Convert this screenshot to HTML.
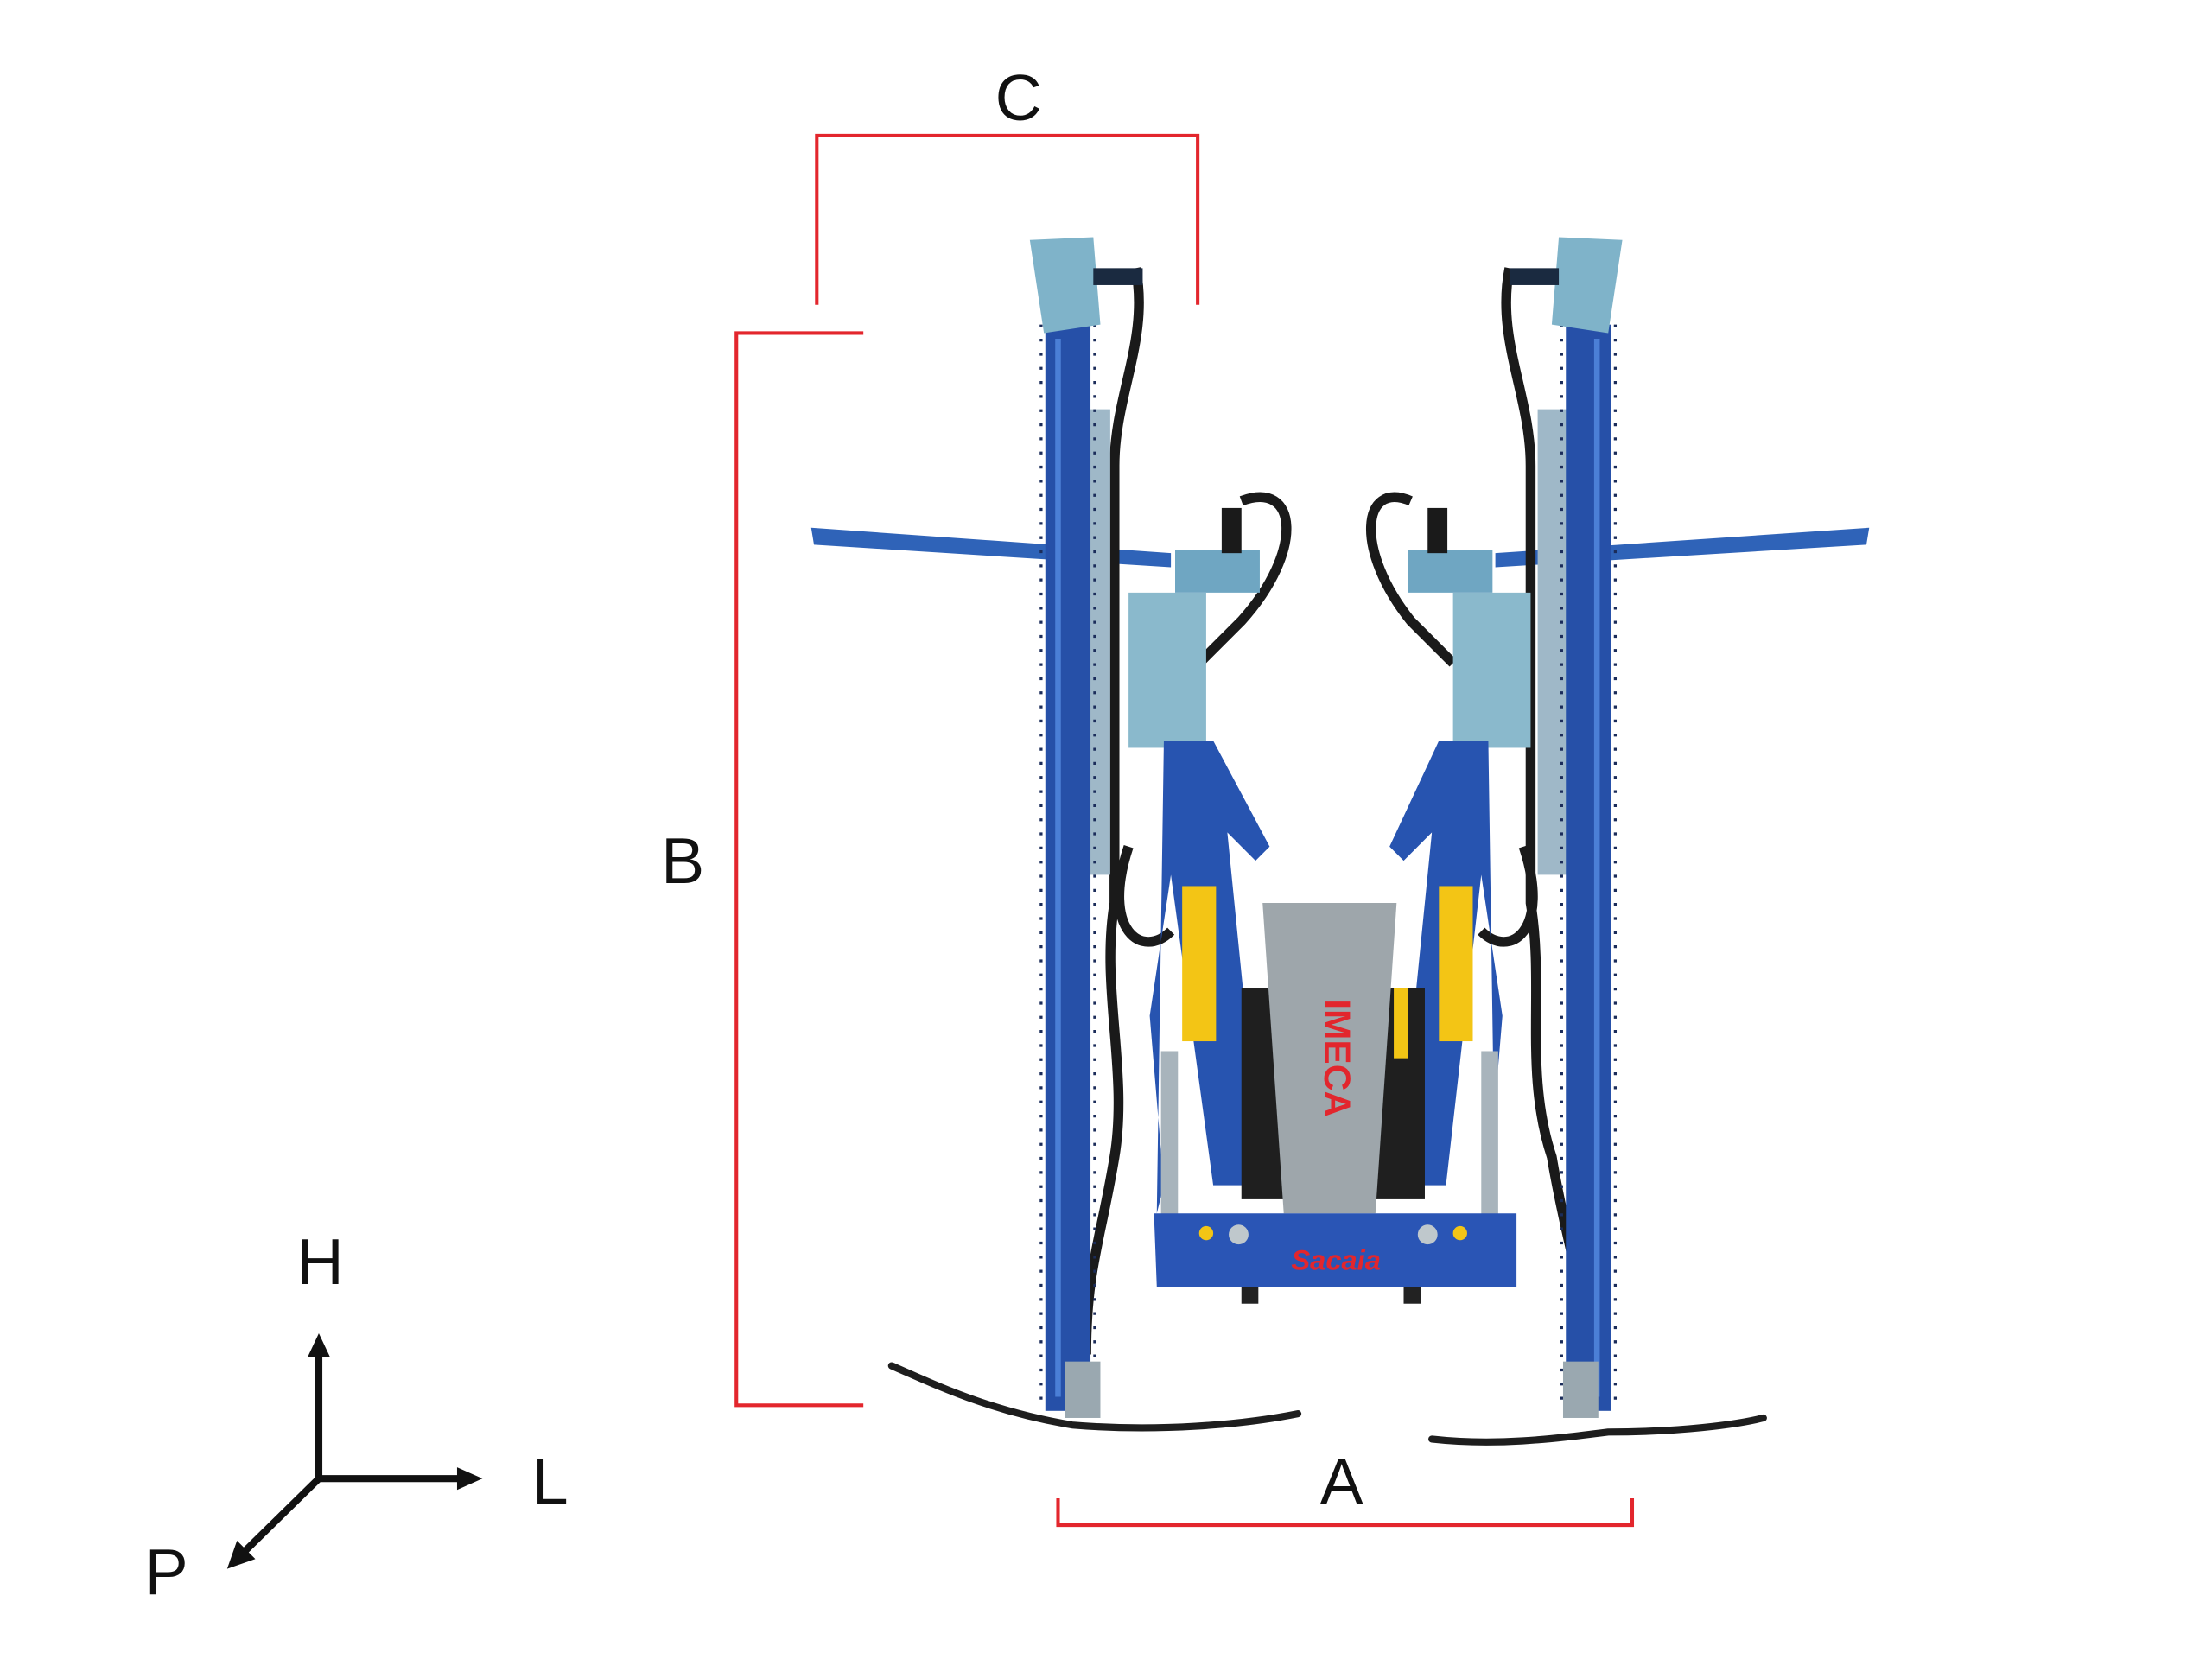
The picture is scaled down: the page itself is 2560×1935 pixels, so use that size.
<!DOCTYPE html>
<html><head><meta charset="utf-8"><style>
html,body{margin:0;padding:0;background:#fff;}
svg{display:block;}
text{font-family:"Liberation Sans",sans-serif;}
</style></head><body>
<svg width="2560" height="1935" viewBox="0 0 1568 1185" xmlns="http://www.w3.org/2000/svg">
<rect width="1568" height="1185" fill="#fff"/>
<!-- dimension brackets -->
<g stroke="#e3262d" stroke-width="2.5" fill="none">
<polyline points="579,216 579,96 849,96 849,216"/>
<polyline points="612,236 522,236 522,996 612,996"/>
<polyline points="750,1062 750,1081 1157,1081 1157,1062"/>
</g>
<g font-size="46" fill="#111" text-anchor="middle">
<text x="722" y="85">C</text>
<text x="484" y="626">B</text>
<text x="951" y="1066">A</text>
<text x="227" y="910">H</text>
<text x="390" y="1066">L</text>
<text x="118" y="1130">P</text>
</g>
<!-- axes -->
<g stroke="#111" stroke-width="5" fill="none">
<line x1="226" y1="1048" x2="226" y2="960"/>
<line x1="226" y1="1048" x2="326" y2="1048"/>
<line x1="226" y1="1048" x2="172" y2="1101"/>
</g>
<polygon points="226,945 218,962 234,962" fill="#111"/>
<polygon points="342,1048 324,1040 324,1056" fill="#111"/>
<polygon points="161,1112 168,1092 181,1105" fill="#111"/>

<!-- machine -->
<g id="m">
<!-- horizontal arms -->
<path d="M575,374 L830,392 L830,402 L577,386 Z" fill="#2f63b8"/>
<path d="M1325,374 L1060,392 L1060,402 L1323,386 Z" fill="#2f63b8"/>
<!-- hoses -->
<g stroke="#1a1a1a" stroke-width="7" fill="none">
<path d="M805,190 C815,240 790,280 790,330 L790,640 C780,700 800,760 790,820 C780,880 770,900 770,960"/>
<path d="M1070,190 C1060,240 1085,280 1085,330 L1085,640 C1095,700 1080,760 1100,820 C1110,880 1120,900 1125,960"/>
<path d="M880,355 C920,340 925,390 880,440 L850,470"/>
<path d="M1000,355 C965,340 960,390 1000,440 L1030,470"/>
<path d="M800,600 C780,660 810,680 830,660"/>
<path d="M1080,600 C1100,660 1070,680 1050,660"/>
</g>
<!-- cylinders (silver) -->
<rect x="765" y="290" width="22" height="330" fill="#9fb8c8"/>
<rect x="1090" y="290" width="22" height="330" fill="#9fb8c8"/>
<!-- vertical saw bars -->
<rect x="741" y="230" width="32" height="770" fill="#2650a8"/>
<rect x="1110" y="230" width="32" height="770" fill="#2650a8"/>
<g stroke="#1b2c5a" stroke-width="2" stroke-dasharray="2 8">
<line x1="738" y1="230" x2="738" y2="995"/>
<line x1="776" y1="230" x2="776" y2="995"/>
<line x1="1107" y1="230" x2="1107" y2="995"/>
<line x1="1145" y1="230" x2="1145" y2="995"/>
</g>
<line x1="750" y1="240" x2="750" y2="990" stroke="#4b7fd6" stroke-width="4"/>
<line x1="1132" y1="240" x2="1132" y2="990" stroke="#4b7fd6" stroke-width="4"/>
<!-- top heads -->
<path d="M730,170 L775,168 L780,230 L740,236 Z" fill="#7fb3c9"/>
<rect x="775" y="190" width="35" height="12" fill="#1a2a40"/>
<path d="M1150,170 L1105,168 L1100,230 L1140,236 Z" fill="#7fb3c9"/>
<rect x="1070" y="190" width="35" height="12" fill="#1a2a40"/>
<!-- motor blocks -->
<rect x="833" y="390" width="60" height="30" fill="#6fa6c2"/>
<rect x="866" y="360" width="14" height="32" fill="#1a1a1a"/>
<rect x="998" y="390" width="60" height="30" fill="#6fa6c2"/>
<rect x="1012" y="360" width="14" height="32" fill="#1a1a1a"/>
<rect x="800" y="420" width="55" height="110" fill="#8ab9cc"/>
<rect x="1030" y="420" width="55" height="110" fill="#8ab9cc"/>
<!-- blue arms -->
<path d="M825,525 L860,525 L900,600 L890,610 L870,590 L895,840 L860,840 L830,620 L815,720 L825,840 L820,860 Z" fill="#2754b0"/>
<path d="M1055,525 L1020,525 L985,600 L995,610 L1015,590 L990,840 L1025,840 L1050,620 L1065,720 L1055,840 L1060,860 Z" fill="#2754b0"/>
<!-- yellow stickers -->
<rect x="838" y="628" width="24" height="110" fill="#f3c515"/>
<rect x="1020" y="628" width="24" height="110" fill="#f3c515"/>
<!-- lower cylinders -->
<rect x="823" y="745" width="12" height="120" fill="#a8b4bc"/>
<rect x="1050" y="745" width="12" height="120" fill="#a8b4bc"/>
<!-- center -->
<rect x="880" y="700" width="130" height="150" fill="#1f1f1f"/>
<path d="M895,640 L990,640 L975,860 L910,860 Z" fill="#9ea6ab"/>
<rect x="988" y="700" width="10" height="50" fill="#f3c515"/>
<text x="948" y="700" font-size="26" fill="#e2262d" font-weight="bold" text-anchor="middle" transform="rotate(90 948 700)" dy="9" dx="50">IMECA</text>
<!-- base plate -->
<path d="M818,860 L1075,860 L1075,912 L820,912 Z" fill="#2a55b5"/>
<text x="947" y="900" font-size="20" font-style="italic" font-weight="bold" fill="#e2262d" text-anchor="middle" font-family="Liberation Serif">Sacaia</text>
<circle cx="878" cy="875" r="7" fill="#bfc8cc"/><circle cx="1012" cy="875" r="7" fill="#bfc8cc"/>
<circle cx="855" cy="874" r="5" fill="#f3c515"/><circle cx="1035" cy="874" r="5" fill="#f3c515"/>
<rect x="880" y="912" width="12" height="12" fill="#222"/><rect x="995" y="912" width="12" height="12" fill="#222"/>
<!-- bottom feet -->
<g stroke="#1e1e1e" stroke-width="5" fill="none" stroke-linecap="round">
<path d="M632,968 C660,980 700,1000 760,1010 C820,1015 880,1010 920,1002"/>
<path d="M1015,1020 C1060,1025 1100,1020 1140,1015 C1190,1015 1230,1010 1250,1005"/>
</g>
<rect x="755" y="965" width="25" height="40" fill="#9aa8b0"/>
<rect x="1108" y="965" width="25" height="40" fill="#9aa8b0"/>
</g>
</svg>
</body></html>
